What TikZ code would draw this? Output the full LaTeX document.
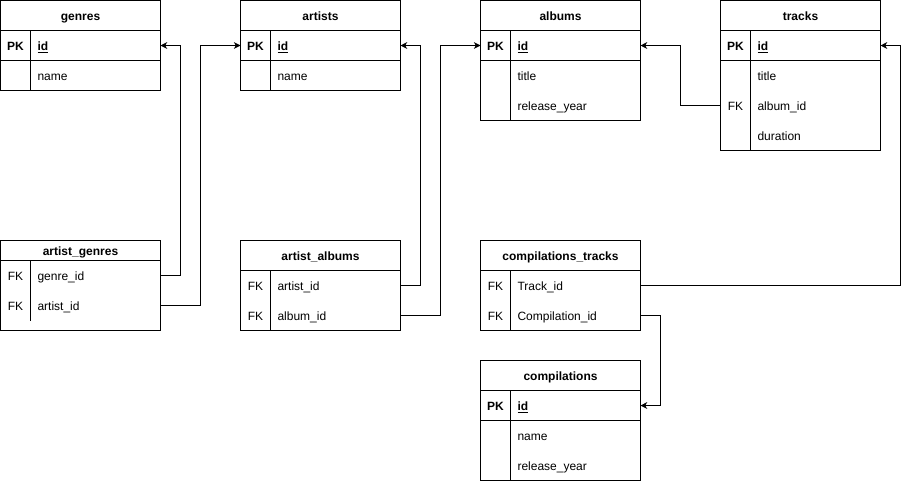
\documentclass[tikz,border=0pt]{standalone}
\usepackage{fontspec}
\setmainfont{Liberation Sans}
\usetikzlibrary{arrows.meta}

\begin{document}
\begin{tikzpicture}[x=0.75pt,y=-0.75pt,line width=0.75pt,font=\fontsize{9}{10}\selectfont,
  head/.style={font=\fontsize{9}{10}\selectfont\bfseries,text height=8pt,text depth=1pt},
  key/.style={minimum width=22.5pt,minimum height=22.5pt,inner sep=0pt,outer sep=0pt,text height=8pt,text depth=1pt},
  fld/.style={anchor=west,text width=87pt,inner xsep=5.25pt,inner ysep=0pt,outer sep=0pt,
    minimum height=22.5pt,align=left,text height=8pt,text depth=1pt},
  fk/.style={-{Stealth[length=5pt,width=5pt,inset=1.5pt]}}]
\useasboundingbox (-0.5,-0.5) rectangle (908.5,481.5);

% genres
\draw (0,0) rectangle (160,90);
\draw (0,30) -- (160,30) (0,60) -- (160,60) (30,30) -- (30,90);
\node[head] (genres) at (80,15) {genres};
\node[key] (g-pk) at (15,45) {\textbf{PK}};
\node[fld] (g-id) at (30,45) {\textbf{\underline{id}}};
\node[fld] (g-name) at (30,75) {name};

% artists
\draw (240,0) rectangle (400,90);
\draw (240,30) -- (400,30) (240,60) -- (400,60) (270,30) -- (270,90);
\node[head] (artists) at (320,15) {artists};
\node[key] (ar-pk) at (255,45) {\textbf{PK}};
\node[fld] (ar-id) at (270,45) {\textbf{\underline{id}}};
\node[fld] (ar-name) at (270,75) {name};

% albums
\draw (480,0) rectangle (640,120);
\draw (480,30) -- (640,30) (480,60) -- (640,60) (510,30) -- (510,120);
\node[head] (albums) at (560,15) {albums};
\node[key] (al-pk) at (495,45) {\textbf{PK}};
\node[fld] (al-id) at (510,45) {\textbf{\underline{id}}};
\node[fld] (al-title) at (510,75) {title};
\node[fld] (al-year) at (510,105) {release\_year};

% tracks
\draw (720,0) rectangle (880,150);
\draw (720,30) -- (880,30) (720,60) -- (880,60) (750,30) -- (750,150);
\node[head] (tracks) at (800,15) {tracks};
\node[key] (t-pk) at (735,45) {\textbf{PK}};
\node[fld] (t-id) at (750,45) {\textbf{\underline{id}}};
\node[fld] (t-title) at (750,75) {title};
\node[key] (t-fk) at (735,105) {FK};
\node[fld] (t-album) at (750,105) {album\_id};
\node[fld] (t-dur) at (750,135) {duration};

% artist_genres
\draw (0,240) rectangle (160,330);
\draw (0,260) -- (160,260) (30,260) -- (30,320);
\node[head] (artist_genres) at (80,250) {artist\_genres};
\node[key] (ag-fk1) at (15,275) {FK};
\node[fld] (ag-genre) at (30,275) {genre\_id};
\node[key] (ag-fk2) at (15,305) {FK};
\node[fld] (ag-artist) at (30,305) {artist\_id};

% artist_albums
\draw (240,240) rectangle (400,330);
\draw (240,270) -- (400,270) (270,270) -- (270,330);
\node[head] (artist_albums) at (320,255) {artist\_albums};
\node[key] (aa-fk1) at (255,285) {FK};
\node[fld] (aa-artist) at (270,285) {artist\_id};
\node[key] (aa-fk2) at (255,315) {FK};
\node[fld] (aa-album) at (270,315) {album\_id};

% compilations_tracks
\draw (480,240) rectangle (640,330);
\draw (480,270) -- (640,270) (510,270) -- (510,330);
\node[head] (compilations_tracks) at (560,255) {compilations\_tracks};
\node[key] (ct-fk1) at (495,285) {FK};
\node[fld] (ct-track) at (510,285) {Track\_id};
\node[key] (ct-fk2) at (495,315) {FK};
\node[fld] (ct-comp) at (510,315) {Compilation\_id};

% compilations
\draw (480,360) rectangle (640,480);
\draw (480,390) -- (640,390) (480,420) -- (640,420) (510,390) -- (510,480);
\node[head] (compilations) at (560,375) {compilations};
\node[key] (c-pk) at (495,405) {\textbf{PK}};
\node[fld] (c-id) at (510,405) {\textbf{\underline{id}}};
\node[fld] (c-name) at (510,435) {name};
\node[fld] (c-year) at (510,465) {release\_year};

% foreign keys
\draw[fk] (ag-genre.east) -- ++(20,0) |- (g-id.east);
\draw[fk] (ag-artist.east) -- ++(40,0) |- (ar-pk.west);
\draw[fk] (aa-artist.east) -- ++(20,0) |- (ar-id.east);
\draw[fk] (aa-album.east) -- ++(40,0) |- (al-pk.west);
\draw[fk] (t-fk.west) -- ++(-40,0) |- (al-id.east);
\draw[fk] (ct-track.east) -| ([xshift=15pt]t-id.east) -- (t-id.east);
\draw[fk] (ct-comp.east) -- ++(20,0) |- (c-id.east);
\end{tikzpicture}
\end{document}
